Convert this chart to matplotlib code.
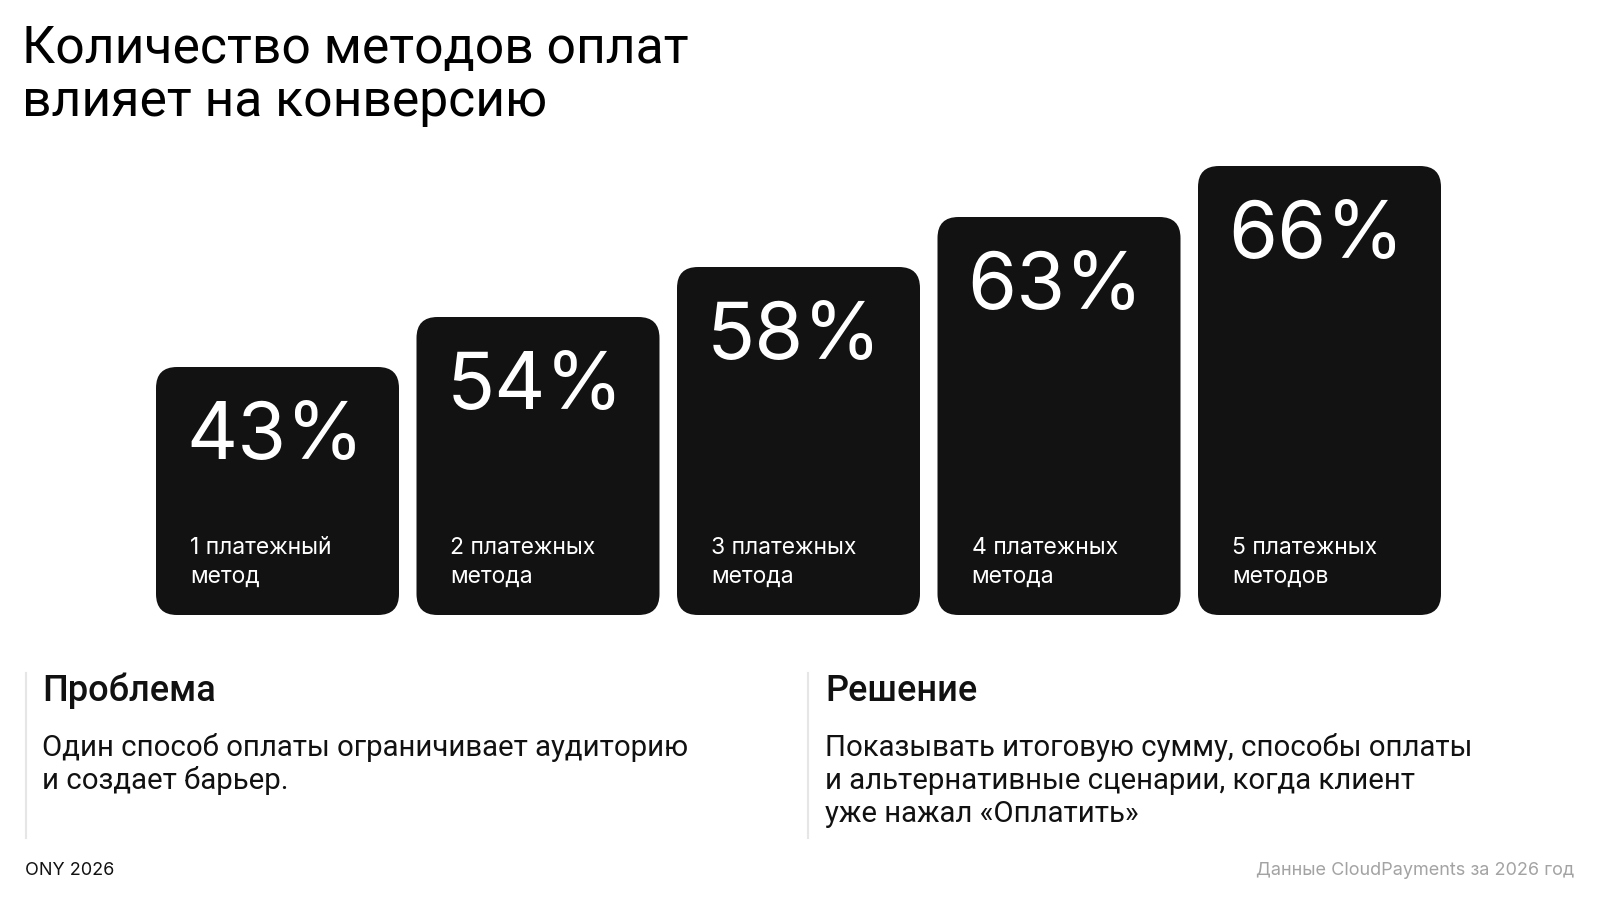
import matplotlib
matplotlib.use("Agg")
import matplotlib.pyplot as plt
from matplotlib.patches import FancyBboxPatch

plt.rcParams['font.family'] = ['Inter', 'DejaVu Sans']
narrow = ['Roboto', 'DejaVu Sans']

# данные
title_lines = ["Количество методов оплат", "влияет на конверсию"]
values = [43, 54, 58, 63, 66]
bar_heights = [248, 298, 348, 398, 449]   # высота плашек на слайде
labels = [["1 платежный", "метод"],
          ["2 платежных", "метода"],
          ["3 платежных", "метода"],
          ["4 платежных", "метода"],
          ["5 платежных", "методов"]]
problem_title = "Проблема"
problem_text = ["Один способ оплаты ограничивает аудиторию",
                "и создает барьер."]
solution_title = "Решение"
solution_text = ["Показывать итоговую сумму, способы оплаты",
                 "и альтернативные сценарии, когда клиент",
                 "уже нажал «Оплатить»"]
footer_left = "ONY 2026"
footer_right = "Данные CloudPayments за 2026 год"

W, H = 1600, 900
dark = "#121212"

fig = plt.figure(figsize=(16, 9), dpi=100)
fig.patch.set_facecolor("white")

# слой для текста в пикселях
bg = fig.add_axes([0, 0, 1, 1])
bg.set_xlim(0, W)
bg.set_ylim(H, 0)
bg.axis("off")

def lines(x, y0, step, rows, **kw):
    for i, r in enumerate(rows):
        bg.text(x, y0 + i * step, r, va="baseline", ha="left", **kw)

lines(22, 63, 53, title_lines, fontsize=37.2, color="black", family=narrow)

# бары
pitch, bw = 260.5, 243
left_px, bottom_px = 156 + bw / 2 - pitch / 2, 615
ax = fig.add_axes([left_px / W, (H - bottom_px) / H,
                   pitch * 5 / W, max(bar_heights) / H])
ax.set_xlim(-0.5, 4.5)
ax.set_ylim(0, max(bar_heights))
ax.axis("off")

bars = ax.bar(range(len(values)), bar_heights, width=bw / pitch)
r_px = 21
for b, v, lab in zip(bars, values, labels):
    x0, w, h = b.get_x(), b.get_width(), b.get_height()
    b.remove()
    ax.add_patch(FancyBboxPatch((x0, 0), w, h,
                                boxstyle="round,pad=0,rounding_size=%f" % (r_px / pitch),
                                mutation_aspect=pitch, facecolor=dark,
                                edgecolor="none"))
    ax.annotate("%d%%" % v, xy=(x0, h), xytext=(30, -92),
                textcoords="offset pixels", color="white", fontsize=57,
                va="baseline", ha="left")
    ax.annotate(lab[0], xy=(x0, 0), xytext=(34, 61),
                textcoords="offset pixels", color="white", fontsize=16.5,
                va="baseline", ha="left")
    ax.annotate(lab[1], xy=(x0, 0), xytext=(34, 32),
                textcoords="offset pixels", color="white", fontsize=16.5,
                va="baseline", ha="left")

# нижний блок
for xl in (25.5, 808):
    bg.plot([xl, xl], [673, 838], color="#e6e6e6", lw=1.5)

bg.text(42, 701, problem_title, fontsize=26, fontweight="medium", color="#111111", family=narrow)
lines(42, 756, 33, problem_text, fontsize=21.2, color="#111111", family=narrow)
bg.text(825, 701, solution_title, fontsize=26, fontweight="medium", color="#111111", family=narrow)
lines(825, 756, 33, solution_text, fontsize=21.2, color="#111111", family=narrow)

bg.text(25, 875, footer_left, fontsize=13, color="#111111", va="baseline")
bg.text(1574, 875, footer_right, fontsize=13, color="#a3a3a3", va="baseline", ha="right")

fig.savefig("out.png", dpi=100, facecolor="white")
